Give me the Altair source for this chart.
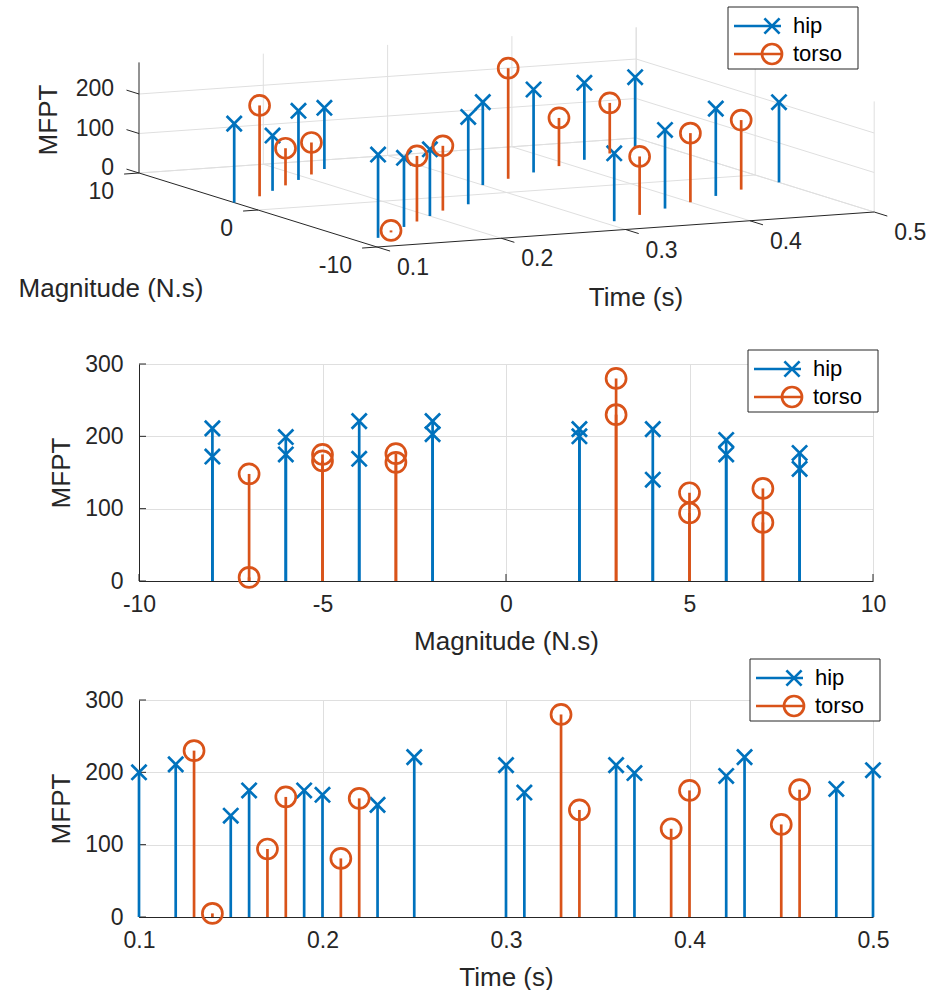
import altair as alt
import pandas as pd

# ---------------- data ----------------
SERIES = ["hip", "torso"]
COLORS = ["#0072BD", "#D95319"]
X_PATH = "M-1,-1L1,1M-1,1L1,-1"
SHAPES = [X_PATH, "circle"]
SIZES = [230, 400]

HIP_TIME = [0.10, 0.12, 0.15, 0.16, 0.19, 0.20, 0.23, 0.25, 0.30, 0.31, 0.36, 0.37, 0.42, 0.43, 0.48, 0.50]
HIP_MAG = [2, -8, 4, -6, 6, -4, 8, -2, 2, -8, 4, -6, 6, -4, 8, -2]
HIP_MFPT = [200, 211, 140, 175, 175, 169, 155, 221, 210, 172, 210, 199, 195, 221, 177, 203]

TORSO_TIME = [0.13, 0.14, 0.17, 0.18, 0.21, 0.22, 0.33, 0.34, 0.39, 0.40, 0.45, 0.46]
TORSO_MAG = [3, -7, 5, -5, 7, -3, 3, -7, 5, -5, 7, -3]
TORSO_MFPT = [230, 5, 94, 166, 81, 164, 280, 148, 122, 175, 128, 176]

TIME_TICKS = [0.1, 0.2, 0.3, 0.4, 0.5]
MAG_TICKS_3D = [-10, 0, 10]
MFPT_TICKS_3D = [0, 100, 200]
MFPT_MAX_3D = 280
MAG_TICKS = [-10, -5, 0, 5, 10]
MFPT_TICKS = [0, 100, 200, 300]

FONT = "Liberation Sans"
TXT = "#262626"
AX = "#262626"
GRID = "#dfdfdf"
LW = 2.7

rows = []
for t, m, z in zip(HIP_TIME, HIP_MAG, HIP_MFPT):
    rows.append({"series": "hip", "t": t, "m": m, "z": z})
for t, m, z in zip(TORSO_TIME, TORSO_MAG, TORSO_MFPT):
    rows.append({"series": "torso", "t": t, "m": m, "z": z})
df = pd.DataFrame(rows)

# ---------------- 3D projection (view of the stem3 axes) ----------------
T0, T1 = TIME_TICKS[0], TIME_TICKS[-1]
M0, M1 = MAG_TICKS_3D[0], MAG_TICKS_3D[-1]


def proj_x(t, m):
    return f"376 + 1243*(({t}) - 0.1) - 11.9*(({m}) + 10)"


def proj_y(t, m, z):
    return f"246 - 87.5*(({t}) - 0.1) - 3.7*(({m}) + 10) - 0.395*({z})"


X3 = alt.Scale(domain=[138, 872], nice=False, zero=False)
Y3 = alt.Scale(domain=[0, 244], nice=False, zero=False, reverse=True)


def xq(f):
    return alt.X(f, type="quantitative", scale=X3, axis=None)


def yq(f):
    return alt.Y(f, type="quantitative", scale=Y3, axis=None)


segs = []
for t in TIME_TICKS[1:]:
    segs.append(("grid", t, M1, 0, t, M1, MFPT_MAX_3D))
    segs.append(("grid", t, M0, 0, t, M1, 0))
for z in MFPT_TICKS_3D:
    segs.append(("grid", T0, M1, z, T1, M1, z))
    segs.append(("grid", T1, M0, z, T1, M1, z))
for m in MAG_TICKS_3D:
    segs.append(("grid", T1, m, 0, T1, m, MFPT_MAX_3D))
for m in MAG_TICKS_3D[1:]:
    segs.append(("grid", T0, m, 0, T1, m, 0))
segs.append(("axis", T0, M0, 0, T1, M0, 0))
segs.append(("axis", T0, M0, 0, T0, M1, 0))
segs.append(("axis", T0, M1, 0, T0, M1, MFPT_MAX_3D))
for t in TIME_TICKS:
    segs.append(("axis", t, M0, 0, t, M0 - 1.1, 0))
for m in MAG_TICKS_3D:
    segs.append(("axis", T0, m, 0, T0 - 0.012, m, 0))
for z in MFPT_TICKS_3D:
    segs.append(("axis", T0, M1, z, T0, M1 + 1.05, z))
seg_df = pd.DataFrame(segs, columns=["kind", "t1", "m1", "z1", "t2", "m2", "z2"])


def seg_layer(kind, color, width):
    return (
        alt.Chart(seg_df)
        .transform_filter(alt.datum.kind == kind)
        .transform_calculate(
            x1=proj_x("datum.t1", "datum.m1"),
            y1=proj_y("datum.t1", "datum.m1", "datum.z1"),
            x2=proj_x("datum.t2", "datum.m2"),
            y2=proj_y("datum.t2", "datum.m2", "datum.z2"),
        )
        .mark_rule(color=color, strokeWidth=width)
        .encode(x=xq("x1"), y=yq("y1"), x2="x2:Q", y2="y2:Q")
    )


def legend_layers(left, top):
    ldf = pd.DataFrame({"series": SERIES})
    out = [
        alt.Chart(ldf)
        .transform_filter(alt.datum.series == SERIES[0])
        .mark_rect(fill="white", stroke=AX, strokeWidth=1)
        .encode(x=alt.value(left), x2=alt.value(left + 130),
                y=alt.value(top), y2=alt.value(top + 62))
    ]
    for i, (s, c, shp, sz) in enumerate(zip(SERIES, COLORS, SHAPES, SIZES)):
        ry = top + 19 + 28 * i
        base = alt.Chart(ldf).transform_filter(alt.datum.series == s)
        out.append(base.mark_rule(color=c, strokeWidth=LW).encode(
            x=alt.value(left + 6), x2=alt.value(left + 53), y=alt.value(ry)))
        out.append(base.mark_point(shape=shp, size=sz, filled=False, color=c,
                                   strokeWidth=LW, opacity=1).encode(
            x=alt.value(left + 44), y=alt.value(ry)))
        out.append(base.mark_text(align="left", baseline="middle", font=FONT,
                                  fontSize=22, color="black").encode(
            x=alt.value(left + 65), y=alt.value(ry), text="series:N"))
    return out


# ---------------- top: 3D stem plot ----------------
layers3 = [
    alt.Chart(pd.DataFrame({"a": [0]})).mark_rule(color="white", strokeWidth=1)
    .encode(x=alt.value(-138)),
    seg_layer("grid", GRID, 1),
    seg_layer("axis", AX, 1),
]
for s, c, shp, sz in zip(SERIES, COLORS, SHAPES, SIZES):
    base = (
        alt.Chart(df)
        .transform_filter(alt.datum.series == s)
        .transform_calculate(
            sx=proj_x("datum.t", "datum.m"),
            sy0=proj_y("datum.t", "datum.m", 0),
            sy=proj_y("datum.t", "datum.m", "datum.z"),
        )
    )
    layers3.append(base.mark_rule(color=c, strokeWidth=LW).encode(
        x=xq("sx"), y=yq("sy0"), y2="sy:Q"))
    layers3.append(base.mark_point(shape=shp, size=sz, filled=False, color=c,
                                   strokeWidth=LW, opacity=1).encode(
        x=xq("sx"), y=yq("sy")))

lab_style = dict(font=FONT, fontSize=23, color=TXT, baseline="middle")
layers3.append(
    alt.Chart(pd.DataFrame({"t": TIME_TICKS}))
    .transform_calculate(sx=proj_x("datum.t", M0), sy=proj_y("datum.t", M0, 0),
                         label="format(datum.t, '.1f')")
    .mark_text(align="center", dx=36, dy=21, **lab_style)
    .encode(x=xq("sx"), y=yq("sy"), text="label:N")
)
layers3.append(
    alt.Chart(pd.DataFrame({"m": MAG_TICKS_3D}))
    .transform_calculate(sx=proj_x(T0, "datum.m"), sy=proj_y(T0, "datum.m", 0),
                         label="'' + datum.m")
    .mark_text(align="right", dx=-25, dy=19, **lab_style)
    .encode(x=xq("sx"), y=yq("sy"), text="label:N")
)
layers3.append(
    alt.Chart(pd.DataFrame({"z": MFPT_TICKS_3D}))
    .transform_calculate(sx=proj_x(T0, M1), sy=proj_y(T0, M1, "datum.z"),
                         label="'' + datum.z")
    .mark_text(align="right", dx=-25, dy=-5, **lab_style)
    .encode(x=xq("sx"), y=yq("sy"), text="label:N")
)
title_style = dict(font=FONT, fontSize=26, color=TXT, align="center", baseline="middle")
ttl = pd.DataFrame({"a": [0]})
layers3.append(alt.Chart(ttl).mark_text(text="Time (s)", **title_style)
               .encode(x=alt.value(497), y=alt.value(297)))
layers3.append(alt.Chart(ttl).mark_text(text="Magnitude (N.s)", **title_style)
               .encode(x=alt.value(-28), y=alt.value(288)))
layers3.append(alt.Chart(ttl).mark_text(text="MFPT", angle=270, **title_style)
               .encode(x=alt.value(-90), y=alt.value(119)))
layers3 += legend_layers(589, 6)

top = alt.layer(*layers3).properties(width=734, height=244)

# ---------------- 2D panels ----------------
W, H = 734, 217


def y_axis():
    return alt.Axis(values=MFPT_TICKS, title="MFPT", grid=True, gridColor=GRID,
                    gridWidth=1, domainColor=AX, domainWidth=1, ticks=False,
                    tickSize=0, labelFont=FONT, labelFontSize=23, labelColor=TXT,
                    labelPadding=16, labelFlush=False, labelOverlap=False,
                    titleFont=FONT, titleFontSize=26, titleFontWeight="normal",
                    titleColor=TXT, titleX=-78, titleY=H / 2, titleAngle=270,
                    titleAlign="center", titleBaseline="middle")


def x_axis(values, title, expr):
    return alt.Axis(values=values, title=title, grid=True, gridColor=GRID,
                    gridWidth=1, domainColor=AX, domainWidth=1, ticks=False,
                    tickSize=0, labelFont=FONT, labelFontSize=23, labelColor=TXT,
                    labelPadding=23, labelBaseline="middle", labelExpr=expr,
                    labelFlush=False, labelOverlap=False,
                    titleFont=FONT, titleFontSize=26, titleFontWeight="normal",
                    titleColor=TXT, titleX=W / 2, titleY=60, titleAlign="center",
                    titleBaseline="middle")


def panel(xfield, xdomain, xvalues, xtitle, expr, leg_left, leg_top):
    xs = alt.Scale(domain=xdomain, nice=False, zero=False)
    ys = alt.Scale(domain=[0, 300], nice=False, zero=False)
    ex = alt.X(f"{xfield}:Q", scale=xs, axis=x_axis(xvalues, xtitle, expr))
    ey = alt.Y("z:Q", scale=ys, axis=y_axis())
    layers = [
        alt.Chart(pd.DataFrame({"z": MFPT_TICKS})).mark_rule(color=AX, strokeWidth=1)
        .encode(y=ey, x=alt.value(0), x2=alt.value(7)),
        alt.Chart(pd.DataFrame({xfield: xvalues})).mark_rule(color=AX, strokeWidth=1)
        .encode(x=ex, y=alt.value(H), y2=alt.value(H - 7)),
    ]
    for s, c, shp, sz in zip(SERIES, COLORS, SHAPES, SIZES):
        base = alt.Chart(df).transform_filter(alt.datum.series == s).transform_calculate(z0="0")
        layers.append(base.mark_rule(color=c, strokeWidth=LW).encode(
            x=ex, y=ey, y2=alt.Y2("z0:Q")))
        layers.append(base.mark_point(shape=shp, size=sz, filled=False, color=c,
                                      strokeWidth=LW, opacity=1).encode(x=ex, y=ey))
    layers += legend_layers(leg_left, leg_top)
    return alt.layer(*layers).properties(width=W, height=H)


mid = panel("m", [-10, 10], MAG_TICKS, "Magnitude (N.s)", "'' + datum.value", 609, -14)
bot = panel("t", [0.1, 0.5], TIME_TICKS, "Time (s)", "format(datum.value, '.1f')", 611, -41)

chart = (
    alt.vconcat(top, mid, bot, spacing=119, bounds="flush")
    .properties(padding={"left": 0, "top": 0, "right": 0, "bottom": 0})
    .configure_view(strokeWidth=0)
)

chart.save("out.html", embed_options={"renderer": "svg", "actions": False})
